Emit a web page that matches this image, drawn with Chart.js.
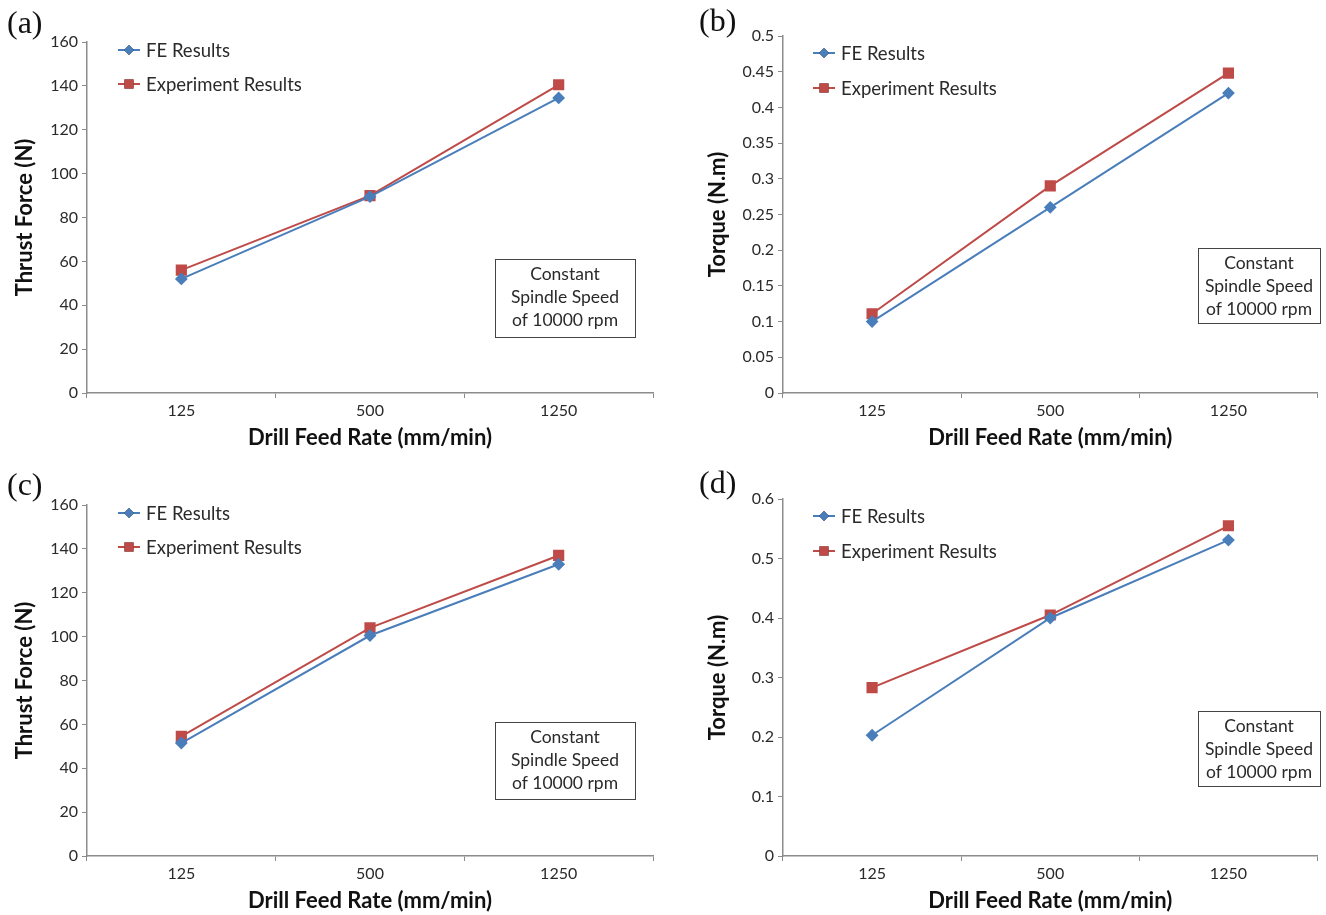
<!DOCTYPE html>
<html>
<head>
<meta charset="utf-8">
<script src="https://cdn.jsdelivr.net/npm/chart.js@4"></script>
<style>
  body { margin: 0; background: #fff; width: 1326px; height: 915px; position: relative; overflow: hidden; }
  .panel { position: absolute; }
  .tag { position: absolute; font-family: "Liberation Serif", serif; font-size: 32px; color: #111; }
</style>
</head>
<body>
<div class="panel" style="left:0;top:0;width:680px;height:460px"><canvas id="chartA"></canvas></div>
<div class="panel" style="left:680px;top:0;width:646px;height:460px"><canvas id="chartB"></canvas></div>
<div class="panel" style="left:0;top:460px;width:680px;height:455px"><canvas id="chartC"></canvas></div>
<div class="panel" style="left:680px;top:460px;width:646px;height:455px"><canvas id="chartD"></canvas></div>
<div class="tag" style="left:7px;top:4px">(a)</div>
<div class="tag" style="left:699px;top:2px">(b)</div>
<div class="tag" style="left:7px;top:466px">(c)</div>
<div class="tag" style="left:699px;top:464px">(d)</div>
<script>
// feed rates (mm/min)
const feedRates = ["125", "500", "1250"];

// (a) thrust force, N
const feThrustA = [52, 89.5, 134.5];
const expThrustA = [56, 90, 140.5];
// (b) torque, N.m
const feTorqueB = [0.1, 0.26, 0.42];
const expTorqueB = [0.111, 0.29, 0.448];
// (c) thrust force, N
const feThrustC = [51.5, 100.5, 133];
const expThrustC = [54.5, 104, 137];
// (d) torque, N.m
const feTorqueD = [0.203, 0.4, 0.531];
const expTorqueD = [0.283, 0.405, 0.555];

const seriesNames = ["FE Results", "Experiment Results"];
const noteLines = ["Constant", "Spindle Speed", "of 10000 rpm"];

const FONT = "Lato, 'Open Sans', sans-serif";
const AXIS_GRAY = "#8c8c8c";
const TEXT = "#2a2a2a";

// legend + note box drawn inside the plot area
const panelDecor = {
  id: "panelDecor",
  afterDraw(chart, args, opts) {
    const ctx = chart.ctx;
    const a = chart.chartArea;
    ctx.save();
    ctx.font = "18.5px " + FONT;
    ctx.textBaseline = "middle";
    chart.data.datasets.forEach((ds, i) => {
      const x0 = a.left + opts.legendDx;
      const y = a.top + opts.legendDy[i];
      ctx.strokeStyle = ds.borderColor;
      ctx.lineWidth = 2;
      ctx.beginPath();
      ctx.moveTo(x0, y);
      ctx.lineTo(x0 + 22, y);
      ctx.stroke();
      Chart.helpers.drawPoint(ctx, {
        pointStyle: ds.pointStyle, radius: ds.pointRadius, rotation: 0
      }, x0 + 11, y);
      ctx.fillStyle = ds.backgroundColor;
      ctx.fill();
      ctx.fillStyle = TEXT;
      ctx.textAlign = "left";
      ctx.fillText(ds.label, x0 + 28, y + 1);
    });
    // note box
    const b = opts.box;
    const bx = a.left + b.dx, by = a.bottom - b.up - b.h;
    ctx.strokeStyle = "#444";
    ctx.lineWidth = 1;
    ctx.strokeRect(bx + 0.5, by + 0.5, b.w, b.h);
    ctx.font = "17.5px " + FONT;
    ctx.textAlign = "center";
    ctx.fillStyle = TEXT;
    noteLines.forEach((t, i) => {
      ctx.fillText(t, bx + b.w / 2, by + 15 + i * 23);
    });
    ctx.restore();
  }
};

function makeChart(id, cfg) {
  const ctx = document.getElementById(id).getContext("2d");
  return new Chart(ctx, {
    type: "line",
    data: {
      labels: feedRates,
      datasets: [
        {
          label: seriesNames[0],
          data: cfg.fe,
          borderColor: "#4a7ebb",
          backgroundColor: "#4a7ebb",
          borderWidth: 2,
          pointStyle: "rectRot",
          pointRadius: 5,
          pointHoverRadius: 5,
          tension: 0
        },
        {
          label: seriesNames[1],
          data: cfg.exp,
          borderColor: "#be4b48",
          backgroundColor: "#be4b48",
          borderWidth: 2,
          pointStyle: "rect",
          pointRadius: 6.5,
          pointHoverRadius: 6.5,
          tension: 0
        }
      ]
    },
    options: {
      responsive: true,
      maintainAspectRatio: false,
      animation: false,
      layout: { padding: { left: 0, top: cfg.padTop, right: cfg.padRight, bottom: 0 } },
      plugins: {
        legend: { display: false },
        tooltip: { enabled: false },
        panelDecor: { legendDx: cfg.legendDx, legendDy: cfg.legendDy, box: cfg.box }
      },
      scales: {
        x: {
          type: "category",
          offset: true,
          afterFit: (s) => { s.height = cfg.xHeight; },
          grid: { display: true, offset: true, drawOnChartArea: false, drawTicks: true, tickLength: 5, color: AXIS_GRAY },
          border: { color: AXIS_GRAY, width: 1.5 },
          ticks: { padding: 3, color: TEXT, font: { family: FONT, size: 16 } },
          title: {
            display: true,
            text: "Drill Feed Rate (mm/min)",
            color: "#111",
            font: { family: FONT, size: 22, weight: "bold" },
            padding: { top: 0, bottom: cfg.xTitlePad }
          }
        },
        y: {
          min: 0,
          max: cfg.max,
          afterFit: (s) => { s.width = cfg.yWidth; },
          grid: { display: true, drawOnChartArea: false, drawTicks: true, tickLength: 5, color: AXIS_GRAY },
          border: { color: AXIS_GRAY, width: 1.5 },
          ticks: {
            stepSize: cfg.step,
            padding: 4,
            color: TEXT,
            font: { family: FONT, size: 16 },
            callback: (v) => String(+v.toFixed(2))
          },
          title: {
            display: true,
            text: cfg.yTitle,
            color: "#111",
            font: { family: FONT, size: 22, weight: "bold" },
            padding: { top: cfg.yTitlePad, bottom: 0 }
          }
        }
      }
    },
    plugins: [panelDecor]
  });
}

makeChart("chartA", {
  fe: feThrustA, exp: expThrustA, max: 160, step: 20, yTitle: "Thrust Force (N)",
  padTop: 42, padRight: 27, xHeight: 67, yWidth: 87, xTitlePad: 9, yTitlePad: 12,
  legendDx: 31, legendDy: [8, 42], box: { dx: 408, up: 56, w: 140, h: 78 }
});
makeChart("chartB", {
  fe: feTorqueB, exp: expTorqueB, max: 0.5, step: 0.05, yTitle: "Torque (N.m)",
  padTop: 36, padRight: 5, xHeight: 67, yWidth: 103, xTitlePad: 9, yTitlePad: 25,
  legendDx: 30, legendDy: [17, 52], box: { dx: 415, up: 70, w: 122, h: 75 }
});
makeChart("chartC", {
  fe: feThrustC, exp: expThrustC, max: 160, step: 20, yTitle: "Thrust Force (N)",
  padTop: 45, padRight: 27, xHeight: 59, yWidth: 87, xTitlePad: 1, yTitlePad: 12,
  legendDx: 31, legendDy: [8, 42], box: { dx: 408, up: 57, w: 140, h: 77 }
});
makeChart("chartD", {
  fe: feTorqueD, exp: expTorqueD, max: 0.6, step: 0.1, yTitle: "Torque (N.m)",
  padTop: 39, padRight: 5, xHeight: 59, yWidth: 103, xTitlePad: 1, yTitlePad: 25,
  legendDx: 30, legendDy: [17, 52], box: { dx: 415, up: 70, w: 122, h: 75 }
});
</script>
</body>
</html>
